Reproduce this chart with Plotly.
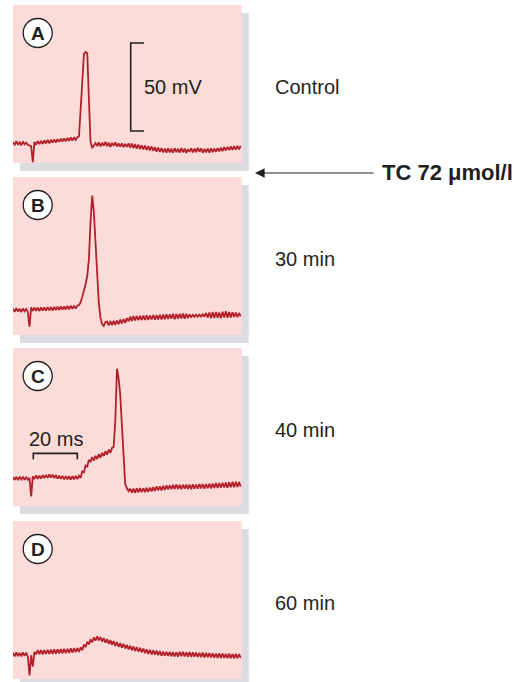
import plotly.graph_objects as go

# ---------------- data ----------------
SAMPLE_MS = 0.75          # sampling interval of the recordings (ms)
PANELS = ["A", "B", "C", "D"]
CONDITIONS = ["Control", "30 min", "40 min", "60 min"]
TREATMENT = "TC 72 \u03bcmol/l"
SCALE_MV = 50
SCALE_MS = 20

# membrane potential (mV) per sample
V_A = [-88.0, -89.8, -87.6, -89.6, -88.2, -90.0, -87.8, -89.4, -88.4, -89.8,
       -90.0, -90.5, -99.5, -88.0,
       -89.6, -87.6, -89.2, -87.4, -89.2, -87.2, -88.9, -86.9, -88.8, -86.8,
       -88.4, -86.6, -88.4, -86.5, -88.0, -86.2, -87.8, -86.0, -87.7, -85.8,
       -87.4, -85.5, -87.2, -85.4, -86.9, -85.3,
       -84.8, -69.5, -53.9, -38.1, -36.9, -37.5, -63.6, -88.0, -91.5, -90.3,
       -88.6, -90.4, -88.2, -90.6, -88.5, -90.2, -88.0, -90.5, -88.4, -90.8,
       -88.6, -90.3, -88.3, -90.6, -88.9, -90.7, -88.8, -91.0, -89.2,
       -90.8, -88.8, -91.3, -89.0, -91.5, -89.3, -91.8, -89.5, -92.1, -89.9,
       -92.3, -90.1, -92.6, -90.4, -92.9, -90.6, -93.1, -91.0, -93.5, -91.2,
       -93.7, -91.5, -94.0, -91.8,
       -94.1, -91.7, -94.0, -91.9, -94.2, -91.6, -93.8, -92.0, -94.1, -91.5,
       -93.9, -91.8, -94.3, -92.1, -93.7, -91.6, -94.0, -91.9, -93.8, -91.4,
       -93.6, -91.7, -94.2, -92.0, -93.9, -91.8, -94.1, -91.7, -93.8, -91.9,
       -93.6, -91.5, -93.4, -91.2, -93.2, -91.0, -92.9, -90.8, -92.7, -90.5,
       -92.5, -90.4, -92.4, -90.2, -92.3, -90.3]

V_B = [-85.0, -86.8, -84.8, -86.6, -85.1, -87.0, -84.9, -86.5, -85.2, -86.9,
       -95.3, -84.3,
       -86.3, -84.4, -86.2, -84.5, -86.4, -84.3, -86.1, -84.4, -86.2, -84.2,
       -86.0, -84.1, -86.1, -84.0, -85.8, -83.9, -85.9, -83.8, -85.6, -83.7,
       -85.5, -83.5, -85.4, -83.4, -85.2, -83.3, -85.0, -83.2,
       -83.0, -81.3, -78.4, -75.0, -71.0, -66.5, -56.8, -35.5, -20.8, -30.1,
       -48.9, -68.8, -81.8, -90.3, -93.8, -94.9, -92.6,
       -92.4, -94.6, -92.1, -94.4, -92.0, -94.2, -91.8, -93.8, -91.3, -93.5,
       -90.9, -93.1, -90.4, -92.3, -89.6, -92.0, -89.3, -91.7, -89.2, -91.6,
       -89.1, -91.5, -89.0, -91.4, -88.8, -91.5, -88.9, -91.2, -88.6, -91.3,
       -88.7, -91.1, -88.5, -91.2, -88.4, -91.0, -88.3, -90.9, -88.2, -90.8,
       -88.0, -91.0, -88.1, -90.8, -87.9, -90.6, -87.8, -90.7, -87.9, -90.4,
       -88.3, -89.8, -88.6, -89.7, -88.5, -89.6, -88.4, -89.5, -88.2, -89.6,
       -87.6, -90.0, -87.2, -90.3, -87.0, -90.4, -86.9, -90.2, -87.2, -90.5,
       -86.8, -90.1, -86.5, -90.2, -86.9, -90.0, -87.1, -89.8, -87.3, -89.9,
       -87.5, -89.4]

V_C = [-83.5, -85.2, -83.4, -85.3, -83.6, -85.0, -83.3, -85.2, -83.7, -85.1,
       -84.0, -94.5, -83.2,
       -84.6, -82.6, -84.5, -82.8, -84.4, -82.5, -84.2, -82.3, -84.0, -82.1,
       -83.9, -82.2, -84.1, -82.5, -84.5, -82.7, -84.6, -82.9, -84.8, -83.0,
       -84.9, -83.1, -85.0, -83.0, -84.9, -82.9, -84.7, -82.8,
       -84.0, -80.3, -80.8, -77.0, -77.6, -73.8, -74.8,
       -72.2, -74.2, -71.5, -73.3, -70.6, -72.5, -69.8, -71.6, -68.9, -70.8,
       -68.0, -69.8, -67.0,
       -66.5, -52.0, -22.0, -27.3, -36.9, -54.0, -75.0, -87.5, -89.8, -91.5,
       -90.2, -92.4, -90.1, -92.5, -90.0, -92.3, -89.8, -92.2, -89.9, -92.1,
       -89.7, -92.0, -89.5, -91.7, -89.3, -91.5, -88.9, -91.2, -88.8, -91.1,
       -88.5, -90.8, -88.3, -90.6, -88.2, -90.4, -88.0, -90.3, -87.9, -90.3,
       -88.0, -90.4, -87.9, -90.2, -87.8, -90.3, -87.9, -90.4, -87.7, -90.2,
       -87.8, -90.1, -87.6, -90.0, -87.5, -90.1, -87.6, -89.9, -87.4, -90.0,
       -87.3, -89.8, -87.0, -89.7, -86.9, -89.6, -86.8, -89.5, -86.6, -89.7,
       -86.5, -89.4, -86.3, -89.3, -86.2, -89.2, -86.4, -89.0]

V_D = [-85.0, -87.1, -84.9, -87.0, -85.1, -87.2, -84.8, -86.9, -85.0, -87.3,
       -98.0, -86.5, -93.0, -84.6,
       -86.0, -83.6, -85.9, -83.5, -86.0, -83.6, -85.8, -83.4, -85.7, -83.3,
       -85.8, -83.2, -85.6, -83.1, -85.5, -83.0, -85.4, -82.9, -85.3, -82.8,
       -85.2, -82.6, -85.0, -82.5, -84.8, -82.4, -84.6,
       -82.0, -83.6, -80.4, -81.9, -78.8, -80.4, -77.5, -79.1, -76.4, -78.2,
       -75.8, -78.1, -76.2, -78.8, -76.8, -79.4, -77.3, -80.0,
       -77.9, -80.6, -78.5, -81.2, -79.0, -81.7, -79.6, -82.2, -80.1, -82.7,
       -80.6, -83.2, -81.1, -83.7, -81.5, -84.1, -81.9, -84.5, -82.3, -84.9,
       -82.7, -85.3, -83.1, -85.7, -83.4, -86.0, -83.7, -86.2, -83.9, -86.5,
       -84.2,
       -86.7, -84.4, -86.8, -84.5, -86.9, -84.6, -87.1, -84.7, -87.2, -84.8,
       -87.3, -84.6, -87.0, -84.5, -87.2, -84.8, -87.3, -84.7, -87.4, -84.9,
       -87.3, -85.0, -87.5, -85.1, -87.6, -85.0, -87.7, -85.2, -87.6, -85.3,
       -87.8, -85.4, -87.9, -85.5, -88.0, -85.4, -88.1, -85.6, -88.0, -85.7,
       -88.2, -85.6, -88.1, -85.8, -88.3, -85.7, -88.2, -85.8, -88.0]

TRACES = [V_A, V_B, V_C, V_D]

# ---------------- layout geometry ----------------
W, H = 521, 682
PANEL_LEFT, PANEL_RIGHT = 13, 241.7
PANEL_TOPS = [5, 177, 348, 521]
PANEL_H = 158
PX_PER_MS = 2.2
PX_PER_MV = 1.76
SHADOW_DX, SHADOW_DY = 7, 8

PINK = "#fbdcd8"
SHADOW = "#dcdce0"
RED = "#b3202c"
INK = "#231f20"
FONT = "Liberation Sans, Arial, Helvetica, sans-serif"

X_RANGE = [0, (PANEL_RIGHT - PANEL_LEFT) / PX_PER_MS]
Y_RANGE = [-100, -100 + PANEL_H / PX_PER_MV]


def fx(px):
    return px / W


def fy(py):
    return 1 - py / H


fig = go.Figure()
shapes = []
annotations = []

for k, (v, top) in enumerate(zip(TRACES, PANEL_TOPS)):
    n = "" if k == 0 else str(k + 1)
    t = [i * SAMPLE_MS for i in range(len(v))]
    fig.add_trace(go.Scatter(x=t, y=v, mode="lines", xaxis="x" + n, yaxis="y" + n,
                             line=dict(color=RED, width=1.8), hoverinfo="skip",
                             showlegend=False))
    fig.layout["xaxis" + n] = dict(domain=[fx(PANEL_LEFT), fx(PANEL_RIGHT)],
                                   range=X_RANGE, visible=False, anchor="y" + n,
                                   fixedrange=True)
    fig.layout["yaxis" + n] = dict(domain=[fy(top + PANEL_H), fy(top)],
                                   range=Y_RANGE, visible=False, anchor="x" + n,
                                   fixedrange=True)
    # shadow + pink panel
    shapes.append(dict(type="rect", xref="paper", yref="paper", layer="below",
                       x0=fx(PANEL_LEFT + SHADOW_DX), x1=fx(PANEL_RIGHT + SHADOW_DX),
                       y0=fy(top + PANEL_H + SHADOW_DY), y1=fy(top + SHADOW_DY),
                       fillcolor=SHADOW, line=dict(width=0)))
    shapes.append(dict(type="rect", xref="paper", yref="paper", layer="below",
                       x0=fx(PANEL_LEFT), x1=fx(PANEL_RIGHT),
                       y0=fy(top + PANEL_H), y1=fy(top),
                       fillcolor=PINK, line=dict(width=0)))
    # circled panel letter
    cx, cy, r = 37.7, top + 28, 14.5
    shapes.append(dict(type="circle", xref="paper", yref="paper", layer="above",
                       x0=fx(cx - r), x1=fx(cx + r), y0=fy(cy + r), y1=fy(cy - r),
                       fillcolor="white", line=dict(color=INK, width=1.3)))
    annotations.append(dict(text="<b>%s</b>" % PANELS[k], xref="paper", yref="paper",
                            x=fx(cx), y=fy(cy + 0.5), showarrow=False,
                            xanchor="center", yanchor="middle",
                            font=dict(size=19, color=INK, family=FONT)))
    # condition label
    annotations.append(dict(text=CONDITIONS[k], xref="paper", yref="paper",
                            x=fx(273), y=fy(top + 82), showarrow=False,
                            xanchor="left", yanchor="middle",
                            font=dict(size=20, color=INK, family=FONT)))

# 50 mV scale bar in panel A
bar_t = (130.7 - PANEL_LEFT) / PX_PER_MS
bar_v0 = -81.8
tick = 6
fig.add_trace(go.Scatter(x=[bar_t + tick, bar_t, bar_t, bar_t + tick],
                         y=[bar_v0, bar_v0, bar_v0 + SCALE_MV, bar_v0 + SCALE_MV],
                         mode="lines", xaxis="x", yaxis="y", hoverinfo="skip",
                         line=dict(color=INK, width=1.6), showlegend=False))
annotations.append(dict(text="%d mV" % SCALE_MV, xref="paper", yref="paper",
                        x=fx(141.5), y=fy(87), showarrow=False, xanchor="left",
                        yanchor="middle", font=dict(size=20, color=INK, family=FONT)))

# 20 ms scale bar in panel C
bar_x0 = (33.3 - PANEL_LEFT) / PX_PER_MS
bar_v = -70.1
fig.add_trace(go.Scatter(x=[bar_x0, bar_x0, bar_x0 + SCALE_MS, bar_x0 + SCALE_MS],
                         y=[bar_v - 3.4, bar_v, bar_v, bar_v - 3.4],
                         mode="lines", xaxis="x3", yaxis="y3", hoverinfo="skip",
                         line=dict(color=INK, width=1.6), showlegend=False))
annotations.append(dict(text="%d ms" % SCALE_MS, xref="paper", yref="paper",
                        x=fx(27), y=fy(438.5), showarrow=False, xanchor="left",
                        yanchor="middle", font=dict(size=20, color=INK, family=FONT)))

# treatment arrow and label
annotations.append(dict(text="", xref="paper", yref="paper", x=fx(255), y=fy(173),
                        ax=120, ay=0, axref="pixel", ayref="pixel", showarrow=True,
                        arrowhead=2, arrowsize=1.6, arrowwidth=1.2, arrowcolor=INK,
                        standoff=0, startstandoff=0))
annotations.append(dict(text="<b>%s</b>" % TREATMENT, xref="paper", yref="paper",
                        x=fx(379.5), y=fy(172), showarrow=False, xanchor="left",
                        yanchor="middle", font=dict(size=22, color=INK, family=FONT)))

fig.update_layout(width=W, height=H, margin=dict(l=0, r=0, t=0, b=0),
                  paper_bgcolor="white", plot_bgcolor="rgba(0,0,0,0)",
                  shapes=shapes, annotations=annotations, showlegend=False)

fig.write_html("out.html", config={"displayModeBar": False})
